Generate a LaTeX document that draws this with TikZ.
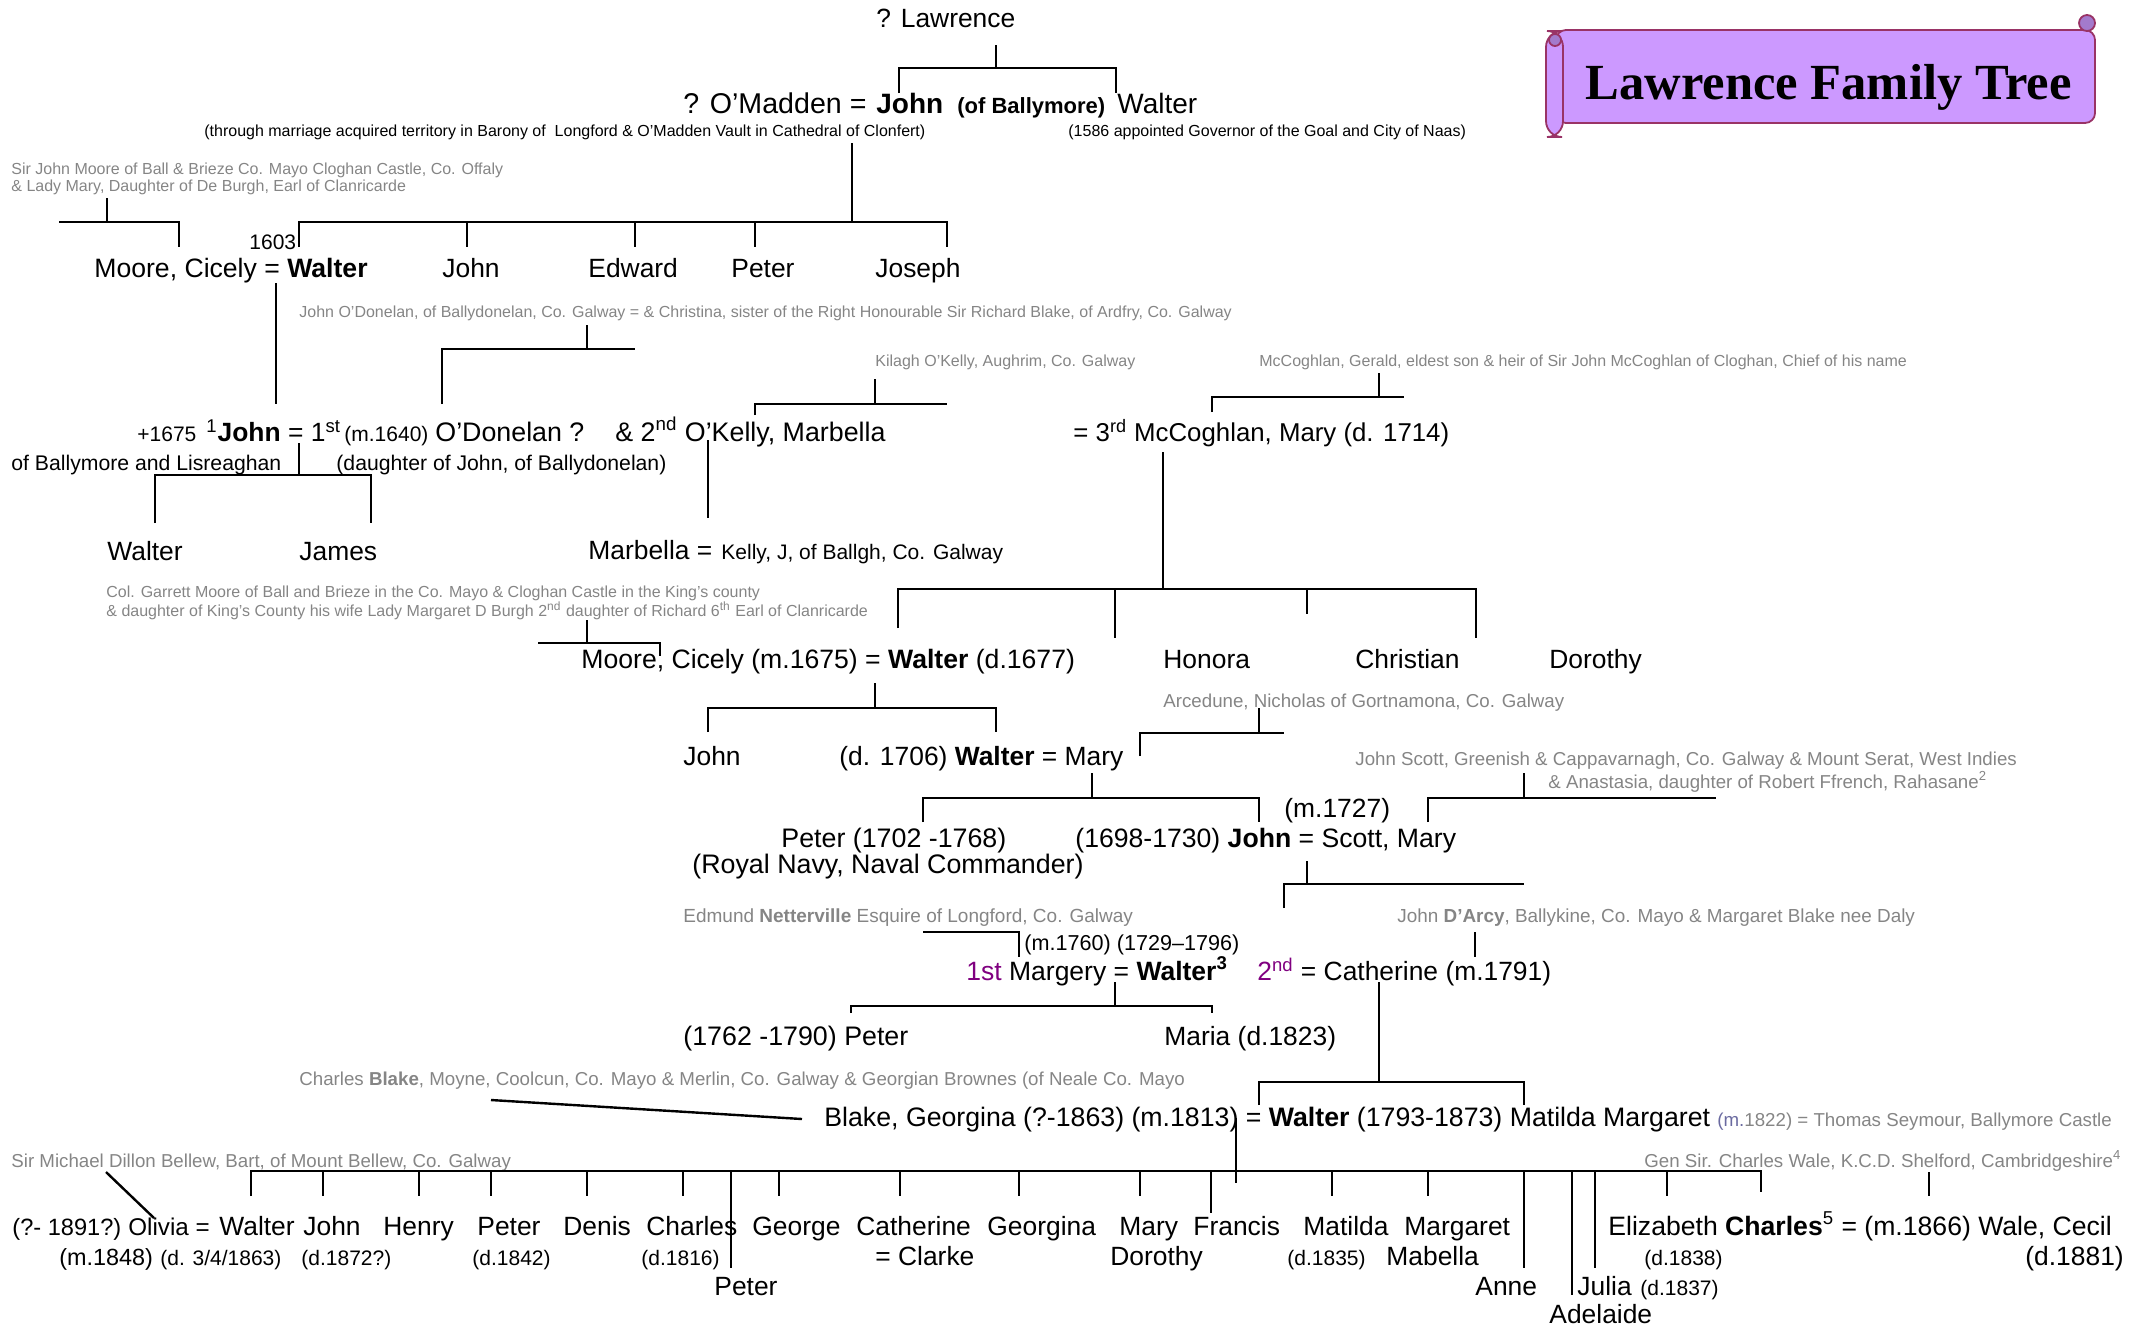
\documentclass[tikz,border=0pt]{standalone}
\usepackage{fontspec}
\setmainfont{Liberation Sans}
\newfontfamily\titlefont{Liberation Serif}
\definecolor{notegray}{HTML}{858585}
\definecolor{ordpurple}{HTML}{800080}
\definecolor{mcolor}{HTML}{6A6AA0}
\definecolor{scrollfill}{HTML}{CC99FF}
\definecolor{scrollline}{HTML}{993366}
\definecolor{curlfill}{HTML}{A37ACC}
\newcommand{\mainsz}{\fontsize{13.2}{15}\selectfont}
\newcommand{\smsz}{\fontsize{10.5}{12}\selectfont}
\newcommand{\notesz}{\fontsize{8.0}{10}\selectfont}
\newcommand{\notebigsz}{\fontsize{9.35}{11}\selectfont}
\tikzset{
  t/.style={anchor=base west, inner sep=0pt, font=\mainsz},
  s/.style={anchor=base west, inner sep=0pt, font=\smsz},
  g/.style={anchor=base west, inner sep=0pt, font=\notesz, text=notegray},
  gb/.style={anchor=base west, inner sep=0pt, font=\notebigsz, text=notegray},
  ln/.style={line width=1.2pt},
}
\begin{document}
\begin{tikzpicture}[x=0.5pt,y=-0.5pt]
\useasboundingbox (0,0) rectangle (2134,1330);

% ---- title scroll ----
\draw[draw=scrollline, fill=scrollfill, line width=0.9pt, rounded corners=5] (1556,30) rectangle (2095,123);
\draw[draw=scrollline, fill=curlfill, line width=0.9pt] (2087,23) circle (8);
\draw[draw=scrollline, fill=scrollfill, line width=0.9pt, rounded corners=8] (1546,31) rectangle (1563,137);
\draw[draw=scrollline, fill=curlfill, line width=0.9pt] (1555,40) circle (6);
\node[anchor=base west, inner sep=0pt, font={\titlefont\fontsize{25.3}{30}\selectfont\bfseries}] (title) at (1585,99) {Lawrence Family Tree};

% ---- generation 1 & 2 ----
\node[t] (lawrence) at (876,27) {? Lawrence};
\node[t, font=\fontsize{14.3}{16}\selectfont] (omadden) at (683,113) {? O’Madden =};
\node[t, font=\fontsize{14}{16}\selectfont\bfseries] (johnA) at (876,113) {John};
\node[t, font=\fontsize{11.0}{13}\selectfont\bfseries] (ballymore) at (957,113) {(of Ballymore)};
\node[t, font=\fontsize{14}{16}\selectfont] (walterA) at (1117,113) {Walter};
\node[t, font=\fontsize{8.0}{9}\selectfont] (through) at (204,136) {(through marriage acquired territory in Barony of\ \ Longford \& O'Madden Vault in Cathedral of Clonfert)};
\node[t, font=\fontsize{8.0}{9}\selectfont] (naas) at (1068,136) {(1586 appointed Governor of the Goal and City of Naas)};

\draw[ln] (996,45) -- (996,68);
\draw[ln] (899,93) -- (899,68) -- (1116,68) -- (1116,93);

% ---- generation 3 ----
\node[g] (moorenote1) at (11,174) {Sir John Moore of Ball \& Brieze Co. Mayo Cloghan Castle, Co. Offaly};
\node[g] (moorenote2) at (11,191) {\& Lady Mary, Daughter of De Burgh, Earl of Clanricarde};
\node[s] (y1603) at (249,249) {1603};
\node[t, font=\fontsize{13.3}{15}\selectfont] (cicelyA) at (94,277) {Moore, Cicely = \textbf{Walter}};
\node[t] (johnB) at (442,277) {John};
\node[t] (edward) at (588,277) {Edward};
\node[t] (peterA) at (731,277) {Peter};
\node[t] (joseph) at (875,277) {Joseph};

\draw[ln] (852,143) -- (852,222);
\draw[ln] (299,247) -- (299,222) -- (947,222) -- (947,247);
\draw[ln] (467,222) -- (467,247);
\draw[ln] (635,222) -- (635,247);
\draw[ln] (755,222) -- (755,247);
\draw[ln] (107,198) -- (107,222);
\draw[ln] (59,222) -- (179,222) -- (179,247);
\draw[ln] (276,283) -- (276,404);

% ---- generation 4 ----
\node[g] (odonnote) at (299,317) {John O’Donelan, of Ballydonelan, Co. Galway = \& Christina, sister of the Right Honourable Sir Richard Blake, of Ardfry, Co. Galway};
\node[g] (kilagh) at (875,366) {Kilagh O’Kelly, Aughrim, Co. Galway};
\node[g] (gerald) at (1259,366) {McCoghlan, Gerald, eldest son \& heir of Sir John McCoghlan of Cloghan, Chief of his name};

\draw[ln] (587,325) -- (587,349);
\draw[ln] (442,404) -- (442,349) -- (635,349);
\draw[ln] (875,379) -- (875,404);
\draw[ln] (755,415) -- (755,404) -- (947,404);
\draw[ln] (1379,373) -- (1379,397);
\draw[ln] (1212,412) -- (1212,397) -- (1404,397);

\node[s] (plus1675) at (137,441) {+1675};
\node[t] (johnC) at (206,441) {\textsuperscript{1}\textbf{John} = 1\textsuperscript{st}};
\node[s] (m1640) at (344,441) {(m.1640)};
\node[t, font=\fontsize{13.4}{15}\selectfont] (odonelan) at (435,441) {O’Donelan ?};
\node[t, font=\fontsize{13.4}{15}\selectfont] (okelly) at (615,441) {\& 2\textsuperscript{nd} O’Kelly, Marbella};
\node[t, font=\fontsize{12.9}{15}\selectfont] (mccoghlan) at (1073,441) {= 3\textsuperscript{rd} McCoghlan, Mary (d. 1714)};
\node[s, font=\fontsize{10.6}{12}\selectfont] (lisreaghan) at (11,470) {of Ballymore and Lisreaghan};
\node[s, font=\fontsize{10.6}{12}\selectfont] (daughter) at (336,470) {(daughter of John, of Ballydonelan)};

\draw[ln] (299,443) -- (299,475);
\draw[ln] (155,523) -- (155,475) -- (371,475) -- (371,523);
\draw[ln] (708,440) -- (708,518);

% ---- generation 5 ----
\node[t] (walterB) at (107,560) {Walter};
\node[t] (james) at (299,560) {James};
\node[t] (marbella) at (588,559) {Marbella =};
\node[s] (kelly) at (721,559) {Kelly, J, of Ballgh, Co. Galway};
\node[g] (garrett1) at (106,597) {Col. Garrett Moore of Ball and Brieze in the Co. Mayo \& Cloghan Castle in the King’s county};
\node[g] (garrett2) at (106,616) {\& daughter of King’s County his wife Lady Margaret D Burgh 2\textsuperscript{nd} daughter of Richard 6\textsuperscript{th} Earl of Clanricarde};

\draw[ln] (587,620) -- (587,643);
\draw[ln] (538,643) -- (660,643) -- (660,656);
\draw[ln] (1163,452) -- (1163,589);
\draw[ln] (898,628) -- (898,589) -- (1476,589) -- (1476,638);
\draw[ln] (1115,589) -- (1115,638);
\draw[ln] (1307,589) -- (1307,614);

\node[t, font=\fontsize{13.3}{15}\selectfont] (cicelyB) at (581,668) {Moore, Cicely (m.1675) = \textbf{Walter} (d.1677)};
\node[t] (honora) at (1163,668) {Honora};
\node[t] (christian) at (1355,668) {Christian};
\node[t] (dorothyA) at (1549,668) {Dorothy};

% ---- generation 6 ----
\node[gb] (arcedune) at (1163,707) {Arcedune, Nicholas of Gortnamona, Co. Galway};
\draw[ln] (875,683) -- (875,708);
\draw[ln] (708,732) -- (708,708) -- (996,708) -- (996,732);
\draw[ln] (1259,708) -- (1259,733);
\draw[ln] (1140,756) -- (1140,733) -- (1284,733);

\node[t] (johnD) at (683,765) {John};
\node[t] (walterC) at (839,765) {(d. 1706) \textbf{Walter} = Mary};
\node[gb] (scottnote1) at (1355,765) {John Scott, Greenish \& Cappavarnagh, Co. Galway \& Mount Serat, West Indies};
\node[gb] (scottnote2) at (1548,788) {\& Anastasia, daughter of Robert Ffrench, Rahasane\textsuperscript{2}};

\draw[ln] (1092,773) -- (1092,798);
\draw[ln] (923,822) -- (923,798) -- (1259,798) -- (1259,822);
\draw[ln] (1524,773) -- (1524,798);
\draw[ln] (1428,822) -- (1428,798) -- (1716,798);

% ---- generation 7 ----
\node[t] (m1727) at (1284,817) {(m.1727)};
\node[t, font=\fontsize{13.4}{15}\selectfont] (peterB) at (781,847) {Peter (1702 -1768)};
\node[t, font=\fontsize{13.4}{15}\selectfont] (navy) at (692,873) {(Royal Navy, Naval Commander)};
\node[t, font=\fontsize{13.3}{15}\selectfont] (johnE) at (1075,847) {(1698-1730) \textbf{John} = Scott, Mary};

\draw[ln] (1307,861) -- (1307,884);
\draw[ln] (1284,908) -- (1284,884) -- (1524,884);

% ---- generation 8 ----
\node[gb, font=\fontsize{9.5}{11}\selectfont] (netterville) at (683,922) {Edmund \textbf{Netterville} Esquire of Longford, Co. Galway};
\node[gb, font=\fontsize{9.45}{11}\selectfont] (darcy) at (1397,922) {John \textbf{D’Arcy}, Ballykine, Co. Mayo \& Margaret Blake nee Daly};
\node[s, font=\fontsize{10.8}{12}\selectfont] (m1760) at (1024,950) {(m.1760) (1729–1796)};
\draw[ln] (923,932) -- (1019,932) -- (1019,957);
\draw[ln] (1475,932) -- (1475,957);

\node[t, font=\fontsize{13.25}{15}\selectfont] (margery) at (966,980) {\textcolor{ordpurple}{1st} Margery = \textbf{Walter\textsuperscript{3}}};
\node[t] (catherineA) at (1257,980) {\textcolor{ordpurple}{2\textsuperscript{nd}} = Catherine (m.1791)};

\draw[ln] (1115,982) -- (1115,1006);
\draw[ln] (851,1013) -- (851,1006) -- (1212,1006) -- (1212,1013);
\draw[ln] (1379,982) -- (1379,1082);
\draw[ln] (1259,1105) -- (1259,1082) -- (1524,1082) -- (1524,1105);

\node[t, font=\fontsize{13.4}{15}\selectfont] (peterC) at (683,1045) {(1762 -1790) Peter};
\node[t] (maria) at (1164,1045) {Maria (d.1823)};

% ---- generation 9 ----
\node[gb] (blakenote) at (299,1085) {Charles \textbf{Blake}, Moyne, Coolcun, Co. Mayo \& Merlin, Co. Galway \& Georgian Brownes (of Neale Co. Mayo};
\draw[ln] (491,1100) -- (802,1119);
\node[t, font=\fontsize{13.35}{15}\selectfont] (georgina) at (824,1126) {Blake, Georgina (?-1863) (m.1813) = \textbf{Walter} (1793-1873) Matilda Margaret};
\node[gb] (seymour) at (1717,1126) {\textcolor{mcolor}{(m.}1822) = Thomas Seymour, Ballymore Castle};

\draw[ln] (1236,1118) -- (1236,1183);

% ---- generation 10 ----
\node[gb] (bellew) at (11,1167) {Sir Michael Dillon Bellew, Bart, of Mount Bellew, Co. Galway};
\node[gb] (wale) at (1644,1167) {Gen Sir. Charles Wale, K.C.D. Shelford, Cambridgeshire\textsuperscript{4}};

\draw[ln] (251,1196) -- (251,1171) -- (1761,1171) -- (1761,1192);
\foreach \xx in {323,419,491,587,683,779,900,1019,1140,1332,1428,1667}
  \draw[ln] (\xx,1171) -- (\xx,1196);
\draw[ln] (731,1171) -- (731,1268);
\draw[ln] (1211,1171) -- (1211,1213);
\draw[ln] (1524,1171) -- (1524,1268);
\draw[ln] (1572,1171) -- (1572,1295);
\draw[ln] (1595,1171) -- (1595,1268);
\draw[ln] (1929,1172) -- (1929,1196);
\draw[ln] (106,1172) -- (154,1218);

\node[t, font=\fontsize{11.8}{13}\selectfont] (q1891) at (12,1235) {(?- 1891?)};
\node[t, font=\fontsize{12.1}{13}\selectfont] (olivia) at (128,1235) {Olivia =};
\node[t] (walterD) at (219,1235) {Walter};
\node[t] (johnF) at (303,1235) {John};
\node[t] (henry) at (383,1235) {Henry};
\node[t] (peterD) at (477,1235) {Peter};
\node[t] (denis) at (563,1235) {Denis};
\node[t] (charlesA) at (646,1235) {Charles};
\node[t] (george) at (752,1235) {George};
\node[t] (catherineB) at (856,1235) {Catherine};
\node[t] (georginaB) at (987,1235) {Georgina};
\node[t] (mary) at (1119,1235) {Mary};
\node[t] (francis) at (1193,1235) {Francis};
\node[t] (matilda) at (1303,1235) {Matilda};
\node[t] (margaret) at (1404,1235) {Margaret};
\node[t, font=\fontsize{13.3}{15}\selectfont] (elizabeth) at (1608,1235) {Elizabeth \textbf{Charles}\textsuperscript{5} = (m.1866) Wale, Cecil};

\node[t, font=\fontsize{11.7}{13}\selectfont] (m1848) at (59,1265) {(m.1848)};
\node[s] (d1863) at (160,1265) {(d. 3/4/1863)};
\node[s] (d1872) at (301,1265) {(d.1872?)};
\node[s] (d1842) at (472,1265) {(d.1842)};
\node[s] (d1816) at (641,1265) {(d.1816)};
\node[t] (clarke) at (875,1265) {= Clarke};
\node[t] (dorothyB) at (1110,1265) {Dorothy};
\node[s] (d1835) at (1287,1265) {(d.1835)};
\node[t] (mabella) at (1386,1265) {Mabella};
\node[s] (d1838) at (1644,1265) {(d.1838)};
\node[t] (d1881) at (2025,1265) {(d.1881)};

\node[t] (peterE) at (714,1295) {Peter};
\node[t] (anne) at (1475,1295) {Anne};
\node[t] (julia) at (1577,1295) {Julia};
\node[s] (d1837) at (1640,1295) {(d.1837)};
\node[t] (adelaide) at (1549,1323) {Adelaide};

\end{tikzpicture}
\end{document}
